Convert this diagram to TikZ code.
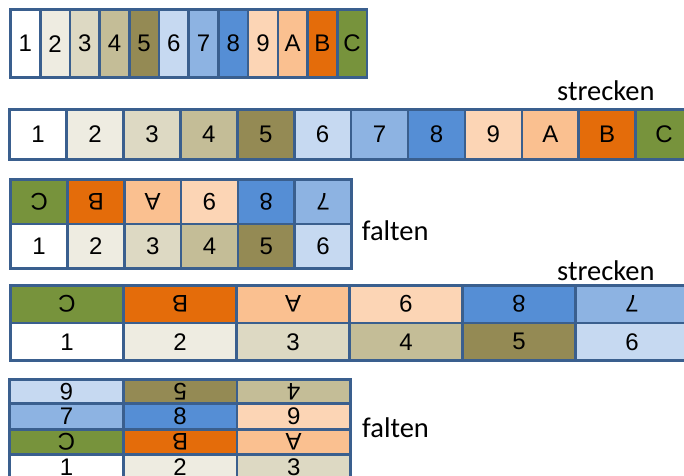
\documentclass[tikz,border=0pt]{standalone}
\usepackage{fontspec}
\setmainfont{Liberation Sans}
\newfontfamily\labelfont{Carlito}
\usetikzlibrary{positioning}
\definecolor{frame}{HTML}{3A5F8E}
\definecolor{c1}{HTML}{FFFFFF}
\definecolor{c2}{HTML}{EEECE1}
\definecolor{c3}{HTML}{DDD9C3}
\definecolor{c4}{HTML}{C4BD97}
\definecolor{c5}{HTML}{948A54}
\definecolor{c6}{HTML}{C6D9F1}
\definecolor{c7}{HTML}{8DB3E2}
\definecolor{c8}{HTML}{558ED5}
\definecolor{c9}{HTML}{FCD5B5}
\definecolor{cA}{HTML}{FAC090}
\definecolor{cB}{HTML}{E46C0A}
\definecolor{cC}{HTML}{77933C}
\tikzset{
cell/.style = {draw=frame, line width=2.6pt, rectangle, inner sep=0pt, outer sep=0pt, anchor=north west, font=\fontsize{24}{24}\selectfont},
flipped/.style = {cell, rotate=180, anchor=south east},
steplabel/.style = {font=\labelfont\fontsize{28.5}{28.5}\selectfont, anchor=base west, inner sep=0pt}
}
\begin{document}
\begin{tikzpicture}[x=1pt, y=-1pt]
    \clip (0,0) rectangle (684,475);
    % original strip
    \foreach \c [count=\i from 0] in {1,2,3,4,5,6,7,8,9,A,B,C}
      \node [cell, fill=c\c, minimum width=29.7pt, minimum height=68pt] (orig\c) at ({10.5+29.7*\i}, 9.7) {\c};
    % first stretch
    \foreach \c [count=\i from 0] in {1,2,3,4,5,6,7,8,9,A,B,C}
      \node [cell, fill=c\c, minimum width=56.9pt, minimum height=50.3pt] (longA\c) at ({9.7+56.9*\i}, 109.3) {\c};
    \node [steplabel] (streckenA) at (557, 100) {strecken};
    % first fold
    \foreach \c [count=\i from 0] in {C,B,A,9,8,7}
      \node [flipped, fill=c\c, minimum width=56.8pt, minimum height=44.3pt] (foldAtop\c) at ({10.7+56.8*\i}, 179.7) {\c};
    \foreach \c [count=\i from 0] in {1,2,3,4,5,6}
      \node [cell, fill=c\c, minimum width=56.8pt, minimum height=44.3pt] (foldAbot\c) at ({10.7+56.8*\i}, 224) {\c};
    \node [steplabel] (faltenA) at (361.7, 240) {falten};
    % second stretch
    \node [steplabel] (streckenB) at (557, 280) {strecken};
    \foreach \c [count=\i from 0] in {C,B,A,9,8,7}
      \node [flipped, fill=c\c, minimum width=113pt, minimum height=37.6pt] (longBtop\c) at ({10.5+113*\i}, 285.4) {\c};
    \foreach \c [count=\i from 0] in {1,2,3,4,5,6}
      \node [cell, fill=c\c, minimum width=113pt, minimum height=37.6pt] (longBbot\c) at ({10.5+113*\i}, 323) {\c};
    % second fold
    \foreach \c [count=\i from 0] in {6,5,4}
      \node [flipped, fill=c\c, minimum width=113.6pt, minimum height=24.3pt] (foldBa\c) at ({9.7+113.6*\i}, 379.3) {\c};
    \foreach \c [count=\i from 0] in {7,8,9}
      \node [cell, fill=c\c, minimum width=113.6pt, minimum height=25.6pt] (foldBb\c) at ({9.7+113.6*\i}, 403.6) {\c};
    \foreach \c [count=\i from 0] in {C,B,A}
      \node [flipped, fill=c\c, minimum width=113.6pt, minimum height=25.5pt] (foldBc\c) at ({9.7+113.6*\i}, 429.2) {\c};
    \foreach \c [count=\i from 0] in {1,2,3}
      \node [cell, fill=c\c, minimum width=113.6pt, minimum height=25.5pt] (foldBd\c) at ({9.7+113.6*\i}, 454.7) {\c};
    \node [steplabel] (faltenB) at (362, 437) {falten};
\end{tikzpicture}
\end{document}
